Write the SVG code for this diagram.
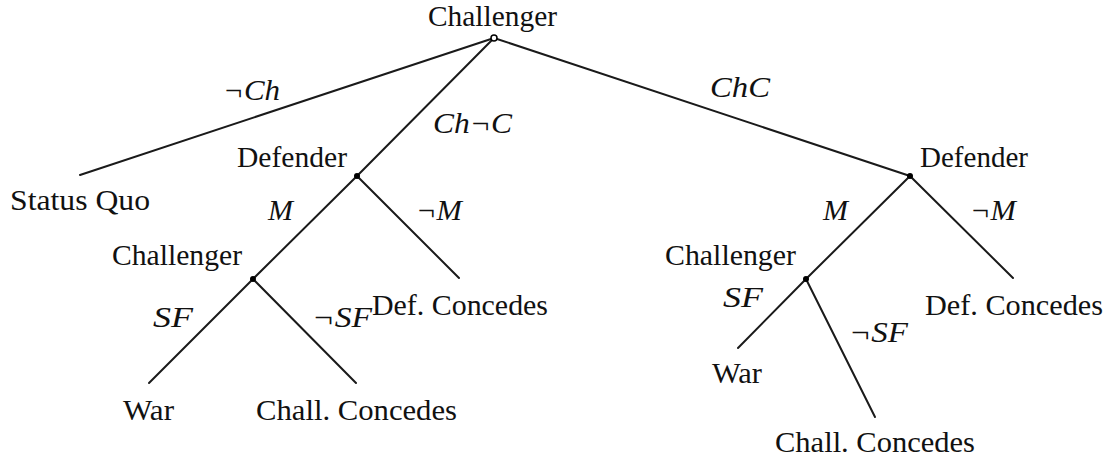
<svg xmlns="http://www.w3.org/2000/svg" width="1112" height="461" viewBox="0 0 1112 461">
<style>
text{font-family:"Liberation Serif","DejaVu Serif",serif;font-size:29px;fill:#111}
.m{font-style:italic}
.e{stroke:#1a1a1a;stroke-width:2;fill:none;stroke-linecap:round}
.d{fill:#000}
</style>
<rect width="1112" height="461" fill="#fff"/>
<g id="connectors">
<line class="e" x1="494" y1="38" x2="80" y2="175"/>
<line class="e" x1="494" y1="38" x2="357" y2="176"/>
<line class="e" x1="494" y1="38" x2="910" y2="176"/>
<line class="e" x1="357" y1="176" x2="253" y2="279"/>
<line class="e" x1="357" y1="176" x2="459" y2="278"/>
<line class="e" x1="253" y1="279" x2="149" y2="383"/>
<line class="e" x1="253" y1="279" x2="356" y2="383"/>
<line class="e" x1="910" y1="176" x2="806" y2="279"/>
<line class="e" x1="910" y1="176" x2="1013" y2="278"/>
<line class="e" x1="806" y1="279" x2="738" y2="348"/>
<line class="e" x1="806" y1="279" x2="875" y2="417"/>
<text class="m" x="223" y="100" textLength="57" lengthAdjust="spacingAndGlyphs">¬Ch</text>
<text class="m" x="433" y="133" textLength="79" lengthAdjust="spacingAndGlyphs">Ch¬C</text>
<text class="m" x="710" y="97" textLength="60" lengthAdjust="spacingAndGlyphs">ChC</text>
<text class="m" x="268" y="220" textLength="25" lengthAdjust="spacingAndGlyphs">M</text>
<text class="m" x="416" y="220" textLength="46" lengthAdjust="spacingAndGlyphs">¬M</text>
<text class="m" x="153" y="327" textLength="40" lengthAdjust="spacingAndGlyphs">SF</text>
<text class="m" x="312" y="327" textLength="60" lengthAdjust="spacingAndGlyphs">¬SF</text>
<text class="m" x="823" y="220" textLength="25" lengthAdjust="spacingAndGlyphs">M</text>
<text class="m" x="970" y="220" textLength="46" lengthAdjust="spacingAndGlyphs">¬M</text>
<text class="m" x="723" y="307" textLength="40" lengthAdjust="spacingAndGlyphs">SF</text>
<text class="m" x="849" y="342" textLength="59" lengthAdjust="spacingAndGlyphs">¬SF</text>
</g>
<g id="root">
<circle cx="494" cy="38" r="3" fill="#fff" stroke="#000" stroke-width="1.5"/>
<text x="428" y="26" textLength="129" lengthAdjust="spacingAndGlyphs">Challenger</text>
</g>
<g id="statusquo">
<text x="10" y="210" textLength="140" lengthAdjust="spacingAndGlyphs">Status Quo</text>
</g>
<g id="defender1">
<circle class="d" cx="357" cy="176" r="3"/>
<text x="237" y="167" textLength="110" lengthAdjust="spacingAndGlyphs">Defender</text>
</g>
<g id="challenger1">
<circle class="d" cx="253" cy="279" r="3"/>
<text x="112" y="265" textLength="130" lengthAdjust="spacingAndGlyphs">Challenger</text>
</g>
<g id="defconcedes1">
<text x="372" y="315" textLength="176" lengthAdjust="spacingAndGlyphs">Def. Concedes</text>
</g>
<g id="war1">
<text x="123" y="420" textLength="51" lengthAdjust="spacingAndGlyphs">War</text>
</g>
<g id="challconcedes1">
<text x="256" y="420" textLength="201" lengthAdjust="spacingAndGlyphs">Chall. Concedes</text>
</g>
<g id="defender2">
<circle class="d" cx="910" cy="176" r="3"/>
<text x="920" y="167" textLength="108" lengthAdjust="spacingAndGlyphs">Defender</text>
</g>
<g id="challenger2">
<circle class="d" cx="806" cy="279" r="3"/>
<text x="665" y="265" textLength="131" lengthAdjust="spacingAndGlyphs">Challenger</text>
</g>
<g id="defconcedes2">
<text x="925" y="315" textLength="178" lengthAdjust="spacingAndGlyphs">Def. Concedes</text>
</g>
<g id="war2">
<text x="712" y="383" textLength="50" lengthAdjust="spacingAndGlyphs">War</text>
</g>
<g id="challconcedes2">
<text x="775" y="452" textLength="200" lengthAdjust="spacingAndGlyphs">Chall. Concedes</text>
</g>
</svg>
